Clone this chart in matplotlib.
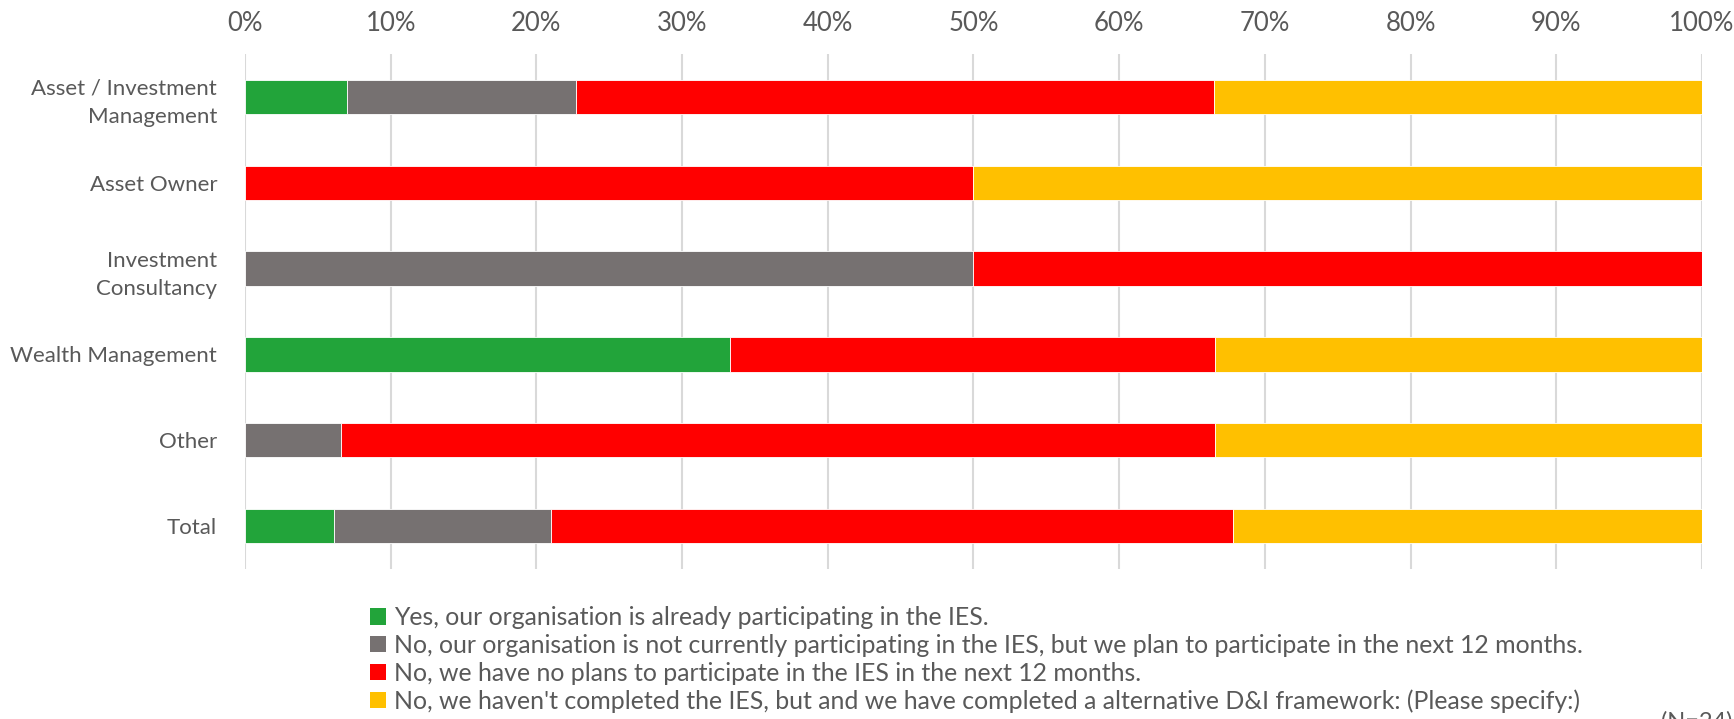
import matplotlib
matplotlib.use("Agg")
from matplotlib import pyplot as plt
from matplotlib.patches import Patch
import numpy as np

plt.rcParams['font.family'] = ['Lato', 'DejaVu Sans']

categories = ["Asset / Investment\nManagement", "Asset Owner", "Investment\nConsultancy",
              "Wealth Management", "Other", "Total"]

# share of respondents per answer, in percent
already = [7.0, 0, 0, 33.3, 0, 6.1]
plan_12m = [15.7, 0, 50.0, 0, 6.6, 14.9]
no_plans = [43.8, 50.0, 50.0, 33.3, 60.0, 46.8]
alternative = [33.5, 50.0, 0, 33.4, 33.4, 32.2]

answers = [
    "Yes, our organisation is already participating in the IES.",
    "No, our organisation is not currently participating in the IES, but we plan to participate in the next 12 months.",
    "No, we have no plans to participate in the IES in the next 12 months.",
    "No, we haven't completed the IES, but and we have completed a alternative D&I framework: (Please specify:)",
]
colours = ["#22a43a", "#767171", "#ff0000", "#ffc000"]
text_col = "#595959"

fig = plt.figure(figsize=(17.34, 7.19), dpi=100)
ax = fig.add_axes([0.1413, 0.2086, 0.8402, 0.7163])

y = np.arange(len(categories))
left = np.zeros(len(categories))
for vals, col in zip([already, plan_12m, no_plans, alternative], colours):
    vals = np.array(vals)
    ax.barh(y, vals, left=left, height=0.4, color=col, edgecolor="white",
            linewidth=0.6, zorder=3)
    left += vals

ax.set_xlim(0, 100)
ax.set_ylim(len(categories) - 0.5, -0.5)
ax.set_yticks(y)
ax.set_yticklabels(categories, fontsize=16, color=text_col, linespacing=1.5)
ax.set_xticks(np.arange(0, 101, 10))
ax.set_xticklabels([f"{v}%" for v in range(0, 101, 10)], fontsize=18.5, color=text_col)
ax.xaxis.tick_top()
ax.tick_params(axis="x", length=0, pad=13)
ax.tick_params(axis="y", length=0, pad=20)
ax.grid(axis="x", color="#d9d9d9", linewidth=1.5, zorder=0)
for s in ax.spines.values():
    s.set_visible(False)

handles = [Patch(facecolor=c, edgecolor="none") for c in colours]
fig.legend(handles, answers, loc="upper left", bbox_to_anchor=(0.2135, 0.157),
           frameon=False, fontsize=17.9, labelcolor=text_col,
           handlelength=0.65, handleheight=0.65, handletextpad=0.3,
           labelspacing=0.19, borderpad=0, borderaxespad=0)

fig.text(0.958, 0.011, "(N=24)", fontsize=17, color=text_col, va="top")

fig.savefig("out.png", dpi=100)
